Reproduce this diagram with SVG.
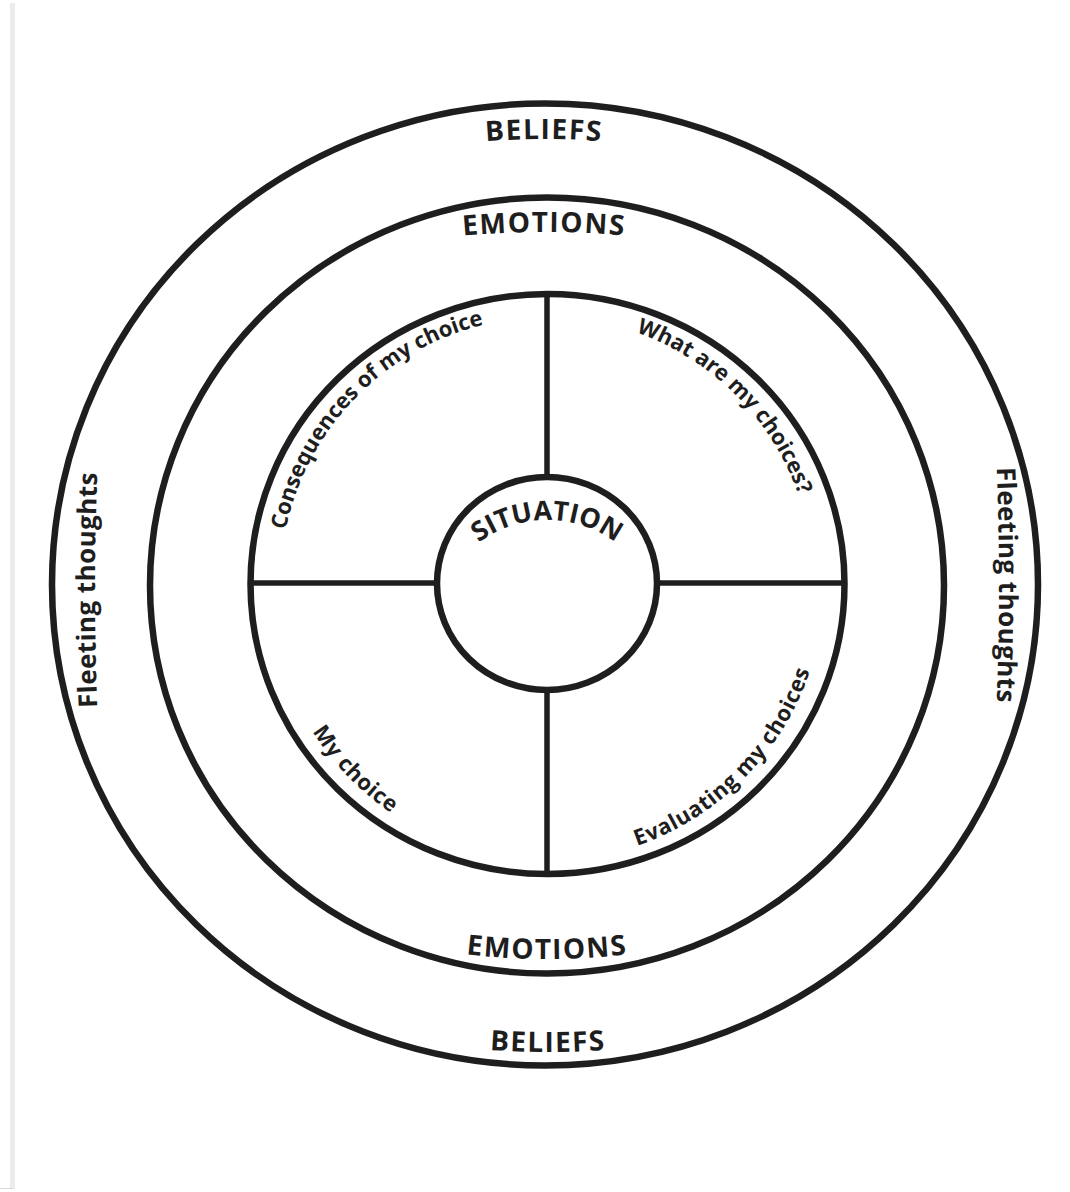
<svg xmlns="http://www.w3.org/2000/svg" width="1070" height="1192" viewBox="0 0 1070 1192">
  <style>
    .ring { fill: none; stroke: #1e1e1e; stroke-width: 6.5; }
    .div { stroke: #1e1e1e; stroke-width: 5.5; }
    .cap { font-family: "Open Sans", "Liberation Sans", sans-serif; font-weight: 700; font-size: 28px; fill: #1e1e1e; letter-spacing: 1.5px; }
    .lbl { font-family: "Open Sans", "Liberation Sans", sans-serif; font-weight: 700; font-size: 22px; fill: #1e1e1e; }
    .side { font-family: "Open Sans", "Liberation Sans", sans-serif; font-weight: 700; font-size: 26px; fill: #1e1e1e; letter-spacing: 0.4px; }
  </style>
  <defs>
    <path id="pBeliefsTop" d="M -156,839 A 700 700 0 0 1 1244,839"/>
    <path id="pEmotionsTop" d="M -356,1132 A 900 900 0 0 1 1444,1132"/>
    <path id="pEmotionsBot" d="M -153,259 A 700 700 0 0 0 1247,259"/>
    <path id="pBeliefsBot" d="M -252,252 A 800 800 0 0 0 1348,252"/>
    <path id="pFleetLeft" d="M 106.3,850 A 3000 3000 0 0 1 106.3,330"/>
    <path id="pFleetRight" d="M 987.7,325 A 3000 3000 0 0 1 987.7,845"/>
    <path id="pConseq" d="M 318.1,721.5 A 267 267 0 0 1 676.4,350.5"/>
    <path id="pWhat" d="M 413.5,352.8 A 267 267 0 0 1 778.2,717.5"/>
    <path id="pMy" d="M 309.6,441.3 A 277 277 0 0 0 681.3,826.3"/>
    <path id="pEval" d="M 410.2,824.8 A 277 277 0 0 0 785.9,443.8"/>
    <path id="pSit" d="M 432,635 A 115 115 0 0 1 662,635"/>
  </defs>
  <rect x="0" y="0" width="1070" height="1192" fill="#ffffff"/>
  <g id="page-edge">
    <rect x="10" y="3" width="5" height="1186" fill="#ececec"/>
    <line x1="0" y1="1188.5" x2="13" y2="1188.5" stroke="#d8d8d8" stroke-width="1"/>
  </g>
  <g id="beliefs-ring">
    <ellipse class="ring" cx="545" cy="584.5" rx="493" ry="481"/>
    <text class="cap"><textPath href="#pBeliefsTop" startOffset="50%" text-anchor="middle">BELIEFS</textPath></text>
    <text class="cap"><textPath href="#pBeliefsBot" startOffset="50%" text-anchor="middle">BELIEFS</textPath></text>
    <text class="side"><textPath href="#pFleetLeft" startOffset="50%" text-anchor="middle">Fleeting thoughts</textPath></text>
    <text class="side"><textPath href="#pFleetRight" startOffset="50%" text-anchor="middle">Fleeting thoughts</textPath></text>
  </g>
  <g id="emotions-ring">
    <ellipse class="ring" cx="547" cy="585.5" rx="397" ry="388"/>
    <text class="cap"><textPath href="#pEmotionsTop" startOffset="50%" text-anchor="middle">EMOTIONS</textPath></text>
    <text class="cap"><textPath href="#pEmotionsBot" startOffset="50%" text-anchor="middle">EMOTIONS</textPath></text>
  </g>
  <g id="choices-circle">
    <ellipse class="ring" cx="547.5" cy="584" rx="297" ry="290"/>
  </g>
  <g id="connectors">
    <line class="div" x1="547" y1="294" x2="547" y2="478"/>
    <line class="div" x1="547" y1="689" x2="547" y2="874"/>
    <line class="div" x1="250" y1="583" x2="438" y2="583"/>
    <line class="div" x1="656" y1="583" x2="845" y2="583"/>
  </g>
  <g id="q-consequences">
    <text class="lbl"><textPath href="#pConseq" startOffset="50%" text-anchor="middle">Consequences of my choice</textPath></text>
  </g>
  <g id="q-what">
    <text class="lbl"><textPath href="#pWhat" startOffset="50%" text-anchor="middle">What are my choices?</textPath></text>
  </g>
  <g id="q-my-choice">
    <text class="lbl" style="letter-spacing:0.6px"><textPath href="#pMy" startOffset="50%" text-anchor="middle">My choice</textPath></text>
  </g>
  <g id="q-evaluating">
    <text class="lbl" style="letter-spacing:0.6px"><textPath href="#pEval" startOffset="50%" text-anchor="middle">Evaluating my choices</textPath></text>
  </g>
  <g id="situation">
    <ellipse class="ring" cx="547" cy="583.5" rx="110" ry="106.5"/>
    <text class="cap" style="font-size:27px;letter-spacing:0px"><textPath href="#pSit" startOffset="50%" text-anchor="middle">SITUATION</textPath></text>
  </g>
</svg>
